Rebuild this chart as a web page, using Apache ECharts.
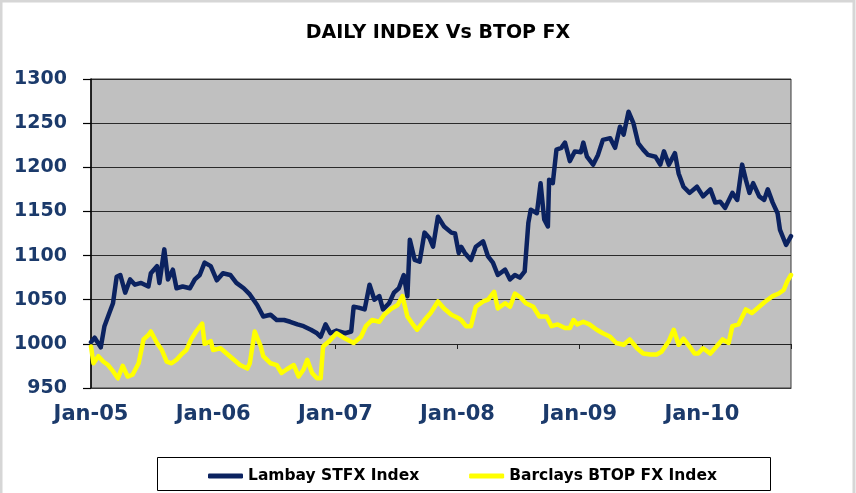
<!DOCTYPE html>
<html>
<head>
<meta charset="utf-8">
<script src="https://cdn.jsdelivr.net/npm/echarts@6/dist/echarts.min.js"></script>
<style>
html,body{margin:0;padding:0;background:#fff;}
#chart{width:856px;height:493px;}
</style>
</head>
<body>
<div id="chart"></div>
<script>
// ---- Data ----
var titleText = 'DAILY INDEX Vs BTOP FX';
var seriesNames = ['Lambay STFX Index', 'Barclays BTOP FX Index'];
var yTicks = [950, 1000, 1050, 1100, 1150, 1200, 1250, 1300];
var xYearLabels = ['Jan-05', 'Jan-06', 'Jan-07', 'Jan-08', 'Jan-09', 'Jan-10'];

// decimal-year positions and values, Lambay STFX Index
var lambayYears = [
  2005.00, 2005.03, 2005.08, 2005.11, 2005.15, 2005.18, 2005.21, 2005.24, 2005.28, 2005.32,
  2005.36, 2005.41, 2005.47, 2005.49, 2005.54, 2005.56, 2005.60, 2005.63, 2005.67, 2005.70,
  2005.75, 2005.81, 2005.85, 2005.89, 2005.93, 2005.98, 2006.03, 2006.08, 2006.14, 2006.19,
  2006.25, 2006.30, 2006.36, 2006.41, 2006.47, 2006.52, 2006.58, 2006.63, 2006.69, 2006.74,
  2006.80, 2006.85, 2006.88, 2006.92, 2006.96, 2007.01, 2007.08, 2007.13, 2007.15, 2007.19,
  2007.24, 2007.28, 2007.32, 2007.36, 2007.39, 2007.44, 2007.48, 2007.52, 2007.56, 2007.59,
  2007.61, 2007.65, 2007.69, 2007.73, 2007.77, 2007.80, 2007.84, 2007.89, 2007.95, 2007.98,
  2008.01, 2008.03, 2008.06, 2008.11, 2008.15, 2008.21, 2008.25, 2008.29, 2008.33, 2008.39,
  2008.43, 2008.47, 2008.51, 2008.55, 2008.58, 2008.60, 2008.65, 2008.68, 2008.71, 2008.74,
  2008.75, 2008.78, 2008.81, 2008.85, 2008.88, 2008.92, 2008.96, 2009.01, 2009.03, 2009.06,
  2009.11, 2009.15, 2009.19, 2009.25, 2009.29, 2009.33, 2009.36, 2009.40, 2009.44, 2009.48,
  2009.52, 2009.56, 2009.62, 2009.66, 2009.69, 2009.73, 2009.78, 2009.81, 2009.85, 2009.90,
  2009.96, 2010.01, 2010.07, 2010.11, 2010.15, 2010.19, 2010.25, 2010.29, 2010.33, 2010.36,
  2010.39, 2010.42, 2010.47, 2010.51, 2010.54, 2010.58, 2010.62, 2010.64, 2010.69, 2010.73
];
var lambayValues = [
  1002, 1007, 996, 1020, 1035, 1046, 1076, 1078, 1058, 1073,
  1067, 1069, 1065, 1080, 1088, 1069, 1107, 1073, 1084, 1063,
  1065, 1063, 1073, 1078, 1092, 1088, 1072, 1080, 1078, 1069,
  1063, 1056, 1044, 1031, 1033, 1027, 1027, 1025, 1022, 1020,
  1016, 1012, 1008, 1022, 1012, 1015, 1012, 1014, 1042, 1041,
  1039, 1067, 1050, 1054, 1039, 1046, 1058, 1063, 1078, 1054,
  1118, 1095, 1093, 1126, 1120, 1110, 1144, 1133, 1126, 1125,
  1103, 1110, 1103, 1095, 1110, 1116, 1099, 1092, 1078, 1084,
  1073, 1078, 1075, 1082, 1137, 1152, 1148, 1182, 1141, 1133,
  1186, 1182, 1220, 1222, 1228, 1207, 1218, 1217, 1228, 1212,
  1203, 1214, 1231, 1233, 1222, 1246, 1237, 1263, 1250, 1227,
  1220, 1214, 1212, 1203, 1218, 1203, 1216, 1193, 1178, 1171,
  1178, 1167, 1175, 1160, 1161, 1154, 1171, 1163, 1203, 1186,
  1171, 1182, 1167, 1163, 1175, 1160, 1148, 1129, 1112, 1122
];

// decimal-year positions and values, Barclays BTOP FX Index
var btopYears = [
  2005.00, 2005.02, 2005.06, 2005.10, 2005.14, 2005.18, 2005.22, 2005.26, 2005.30, 2005.34,
  2005.39, 2005.43, 2005.47, 2005.49, 2005.54, 2005.58, 2005.62, 2005.66, 2005.70, 2005.74,
  2005.78, 2005.82, 2005.86, 2005.91, 2005.93, 2005.98, 2006.00, 2006.06, 2006.11, 2006.17,
  2006.22, 2006.28, 2006.30, 2006.34, 2006.39, 2006.41, 2006.47, 2006.52, 2006.56, 2006.60,
  2006.66, 2006.70, 2006.74, 2006.77, 2006.81, 2006.85, 2006.88, 2006.90, 2006.95, 2006.97,
  2007.01, 2007.08, 2007.15, 2007.21, 2007.25, 2007.30, 2007.36, 2007.40, 2007.45, 2007.51,
  2007.55, 2007.59, 2007.63, 2007.67, 2007.73, 2007.78, 2007.84, 2007.89, 2007.95, 2007.98,
  2008.01, 2008.03, 2008.07, 2008.11, 2008.15, 2008.21, 2008.25, 2008.30, 2008.33, 2008.39,
  2008.43, 2008.47, 2008.52, 2008.56, 2008.62, 2008.67, 2008.73, 2008.77, 2008.82, 2008.88,
  2008.92, 2008.95, 2008.98, 2009.03, 2009.08, 2009.14, 2009.19, 2009.25, 2009.30, 2009.36,
  2009.41, 2009.47, 2009.52, 2009.58, 2009.63, 2009.67, 2009.73, 2009.77, 2009.81, 2009.85,
  2009.90, 2009.94, 2009.97, 2010.01, 2010.07, 2010.12, 2010.17, 2010.22, 2010.25, 2010.30,
  2010.36, 2010.41, 2010.47, 2010.52, 2010.58, 2010.63, 2010.67, 2010.70, 2010.73
];
var btopValues = [
  997, 978, 986, 980, 976, 969, 961, 975, 963, 965,
  978, 1005, 1010, 1014, 1001, 993, 980, 978, 982, 988,
  993, 1005, 1014, 1023, 1000, 1003, 993, 995, 989, 982,
  976, 972, 978, 1014, 997, 986, 978, 976, 967, 971,
  976, 963, 971, 982, 967, 961, 961, 997, 1003, 1006,
  1012, 1006, 1001, 1008, 1020, 1027, 1025, 1033, 1039, 1044,
  1054, 1031, 1023, 1016, 1027, 1035, 1048, 1040, 1033, 1031,
  1029, 1027, 1020, 1020, 1042, 1048, 1050, 1059, 1040, 1046,
  1042, 1057, 1052, 1046, 1042, 1031, 1031, 1020, 1022, 1018,
  1018, 1027, 1022, 1025, 1022, 1016, 1012, 1008, 1001, 999,
  1005, 995, 989, 988, 988, 991, 1003, 1016, 999, 1006,
  997, 989, 989, 995, 989, 997, 1005, 1001, 1020, 1022,
  1039, 1035, 1042, 1048, 1054, 1057, 1061, 1071, 1078
];

// ---- Build chart ----
function pairs(xs, ys) {
  var out = [];
  for (var i = 0; i < xs.length; i++) out.push([xs[i], ys[i]]);
  return out;
}
var navy = '#0b2260';
var labelNavy = '#1b3a6b';
var font = 'DejaVu Sans';
var xMin = 2005, xMax = 2010.73;

function yearLabel(v) {
  if (Math.abs(v - Math.round(v)) > 1e-6) return '';
  var idx = Math.round(v) - 2005;
  return xYearLabels[idx] || '';
}

var chart = echarts.init(document.getElementById('chart'), null, {renderer: 'canvas'});
chart.setOption({
  animation: false,
  backgroundColor: '#ffffff',
  title: {
    text: titleText,
    left: 433,
    textAlign: 'center',
    top: 19,
    textStyle: {fontFamily: font, fontWeight: 'bold', fontSize: 19, color: '#000'}
  },
  grid: {
    left: 91, right: 65, top: 79, bottom: 105,
    show: true, backgroundColor: '#c0c0c0', borderColor: '#3a3a3a', borderWidth: 1,
    containLabel: false
  },
  legend: {
    left: 203, top: 463,
    itemWidth: 35, itemHeight: 5, itemGap: 50,
    icon: 'roundRect',
    textStyle: {fontFamily: font, fontWeight: 'bold', fontSize: 15.5, color: '#000'},
    data: seriesNames
  },
  xAxis: [
    {
      type: 'value', min: xMin, max: xMax, interval: 1,
      axisLine: {show: true, lineStyle: {color: '#3a3a3a', width: 1}},
      axisTick: {show: false},
      splitLine: {show: false},
      axisLabel: {
        formatter: yearLabel, showMaxLabel: false, margin: 16,
        fontFamily: font, fontWeight: 'bold', fontSize: 21, color: labelNavy
      }
    },
    {
      type: 'value', min: xMin, max: xMax, interval: 1,
      position: 'bottom', offset: -44,
      axisLine: {show: true, lineStyle: {color: '#222', width: 1.2}},
      axisTick: {show: true, length: 5, lineStyle: {color: '#222', width: 1}},
      splitLine: {show: false},
      axisLabel: {show: false}
    }
  ],
  yAxis: {
    type: 'value', min: 950, max: 1300, interval: 50,
    axisLine: {show: true, lineStyle: {color: '#000', width: 1.5}},
    axisTick: {show: true, length: 8, lineStyle: {color: '#000', width: 1.2}},
    splitLine: {show: true, lineStyle: {color: '#2a2a2a', width: 1.2}},
    axisLabel: {
      margin: 24,
      fontFamily: font, fontWeight: 'bold', fontSize: 19, color: labelNavy,
      formatter: function (v) { return yTicks.indexOf(v) >= 0 ? String(v) : ''; }
    }
  },
  series: [
    {
      name: seriesNames[0], type: 'line', xAxisIndex: 0,
      data: pairs(lambayYears, lambayValues),
      showSymbol: false, symbol: 'none',
      lineStyle: {color: navy, width: 4.5, join: 'round', cap: 'round'},
      itemStyle: {color: navy},
      z: 3
    },
    {
      name: seriesNames[1], type: 'line', xAxisIndex: 0,
      data: pairs(btopYears, btopValues),
      showSymbol: false, symbol: 'none',
      lineStyle: {color: '#ffff00', width: 4.5, join: 'round', cap: 'round'},
      itemStyle: {color: '#ffff00'},
      z: 4
    }
  ],
  graphic: [
    {
      type: 'rect', silent: true, z: -10,
      shape: {x: 1, y: 1, width: 853, height: 520},
      style: {fill: 'none', stroke: '#d6d6d6', lineWidth: 3}
    },
    {
      type: 'rect', silent: true,
      shape: {x: 157.5, y: 457.5, width: 613, height: 33},
      style: {fill: 'none', stroke: '#000', lineWidth: 1}
    }
  ]
});
</script>
</body>
</html>
